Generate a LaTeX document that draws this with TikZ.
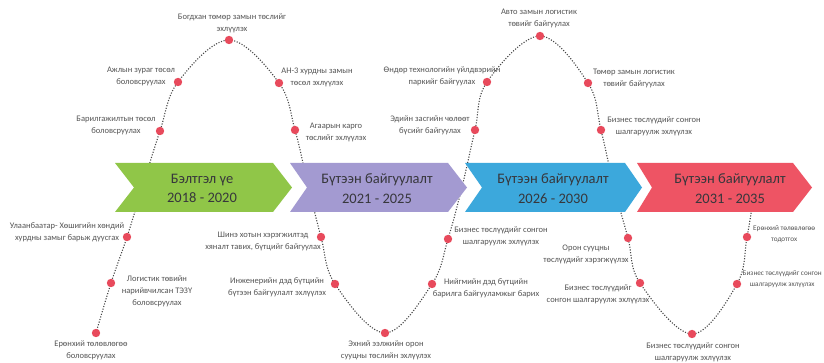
\documentclass[tikz,border=0pt]{standalone}
\usepackage{fontspec}
\setmainfont{Carlito}
\usepackage{xcolor}
\usepackage{tikz}

\definecolor{prepgreen}{RGB}{144,198,72}
\definecolor{buildpurple}{RGB}{163,154,209}
\definecolor{buildblue}{RGB}{60,168,220}
\definecolor{buildred}{RGB}{238,84,100}
\definecolor{dotred}{RGB}{232,74,92}
\definecolor{wavegray}{RGB}{70,70,70}
\definecolor{labelgray}{RGB}{85,85,85}
\definecolor{phasetext}{RGB}{55,55,60}

\begin{document}
\begin{tikzpicture}[x=10pt, y=10pt,
        lbl/.style={align=center, text=labelgray, font=\fontsize{8.5}{12}\selectfont, inner sep=0pt},
        edgelbl/.style={lbl, font=\fontsize{7.2}{11}\selectfont},
        phase/.style={align=center, text=phasetext, font=\fontsize{14.5}{19.5}\selectfont, inner sep=0pt},
        wave/.style={draw=wavegray, line width=1.1pt, dash pattern=on 1.1pt off 1.6pt},
        reddot/.style={fill=dotred}]
        % Frame
        \fill[white] (0,0) rectangle (82.4,36.3);
        \useasboundingbox (0,0) rectangle (82.4,36.3);

        % Coordinates
        \coordinate (A) at (9.60, 3.00);
        \coordinate (B) at (11.10, 8.00);
        \coordinate (C) at (12.70, 12.60);
        \coordinate (D) at (14.30, 17.80);
        \coordinate (E) at (16.00, 23.20);
        \coordinate (F) at (17.80, 28.10);
        \coordinate (G) at (22.90, 32.30);
        \coordinate (H) at (27.90, 28.00);
        \coordinate (I) at (29.50, 23.30);
        \coordinate (J) at (30.80, 17.80);
        \coordinate (K) at (32.10, 12.60);
        \coordinate (L) at (33.50, 7.90);
        \coordinate (M) at (38.50, 3.00);
        \coordinate (N) at (43.20, 7.90);
        \coordinate (O) at (44.80, 12.40);
        \coordinate (P) at (46.20, 17.60);
        \coordinate (Q) at (47.50, 23.30);
        \coordinate (R) at (48.70, 28.10);
        \coordinate (S) at (54.00, 32.70);
        \coordinate (T) at (58.80, 28.00);
        \coordinate (U) at (60.10, 23.30);
        \coordinate (V) at (61.40, 17.60);
        \coordinate (W) at (62.80, 12.50);
        \coordinate (X) at (64.00, 8.00);
        \coordinate (Y) at (69.20, 2.90);
        \coordinate (Z) at (73.70, 7.90);
        \coordinate (AA) at (74.70, 12.60);
        \coordinate (AB) at (75.40, 16.80);

        % Drawing
        \draw[wave] plot[smooth, tension=0.6] coordinates {(A) (B) (C) (D) (E) (F) (G) (H) (I) (J) (K) (L) (M) (N) (O) (P) (Q) (R) (S) (T) (U) (V) (W) (X) (Y) (Z) (AA) (AB)};

        \fill[prepgreen] (11.50,20.00) -- (27.30,20.00) -- (29.20,17.55) -- (27.30,15.10) -- (11.50,15.10) -- (13.40,17.55) -- cycle;
        \fill[buildpurple] (29.00,20.00) -- (44.80,20.00) -- (46.70,17.55) -- (44.80,15.10) -- (29.00,15.10) -- (30.70,17.55) -- cycle;
        \fill[buildblue] (46.50,20.00) -- (62.50,20.00) -- (64.20,17.55) -- (62.50,15.10) -- (46.50,15.10) -- (48.20,17.55) -- cycle;
        \fill[buildred] (63.70,20.00) -- (79.30,20.00) -- (81.20,17.55) -- (79.30,15.10) -- (63.70,15.10) -- (65.20,17.55) -- cycle;
        \node[phase] (PA) at (20.20,17.45) {Бэлтгэл үе\\2018 - 2020};
        \node[phase] (PB) at (37.70,17.45) {Бүтээн байгуулалт\\2021 - 2025};
        \node[phase] (PC) at (55.30,17.45) {Бүтээн байгуулалт\\2026 - 2030};
        \node[phase] (PD) at (73.00,17.45) {Бүтээн байгуулалт\\2031 - 2035};

        \fill[reddot] (A) circle (0.42);
        \fill[reddot] (B) circle (0.42);
        \fill[reddot] (C) circle (0.42);
        \fill[reddot] (E) circle (0.42);
        \fill[reddot] (F) circle (0.42);
        \fill[reddot] (G) circle (0.42);
        \fill[reddot] (H) circle (0.42);
        \fill[reddot] (I) circle (0.42);
        \fill[reddot] (K) circle (0.42);
        \fill[reddot] (L) circle (0.42);
        \fill[reddot] (M) circle (0.42);
        \fill[reddot] (N) circle (0.42);
        \fill[reddot] (O) circle (0.42);
        \fill[reddot] (Q) circle (0.42);
        \fill[reddot] (R) circle (0.42);
        \fill[reddot] (S) circle (0.42);
        \fill[reddot] (T) circle (0.42);
        \fill[reddot] (U) circle (0.42);
        \fill[reddot] (W) circle (0.42);
        \fill[reddot] (X) circle (0.42);
        \fill[reddot] (Y) circle (0.42);
        \fill[reddot] (Z) circle (0.42);
        \fill[reddot] (AA) circle (0.42);

        \node[lbl] (LA) at (9.10,1.30) {Ерөнхий төлөвлөгөө\\боловсруулах};
        \node[lbl] (LB) at (15.70,7.15) {Логистик төвийн\\нарийвчилсан ТЭЗҮ\\боловсруулах};
        \node[lbl] (LC) at (6.70,13.05) {Улаанбаатар- Хөшигийн хөндий\\хурдны замыг барьж дуусгах};
        \node[lbl] (LE) at (11.60,23.75) {Барилгажилтын төсөл\\боловсруулах};
        \node[lbl] (LF) at (14.10,28.70) {Ажлын зураг төсөл\\боловсруулах};
        \node[lbl] (LG) at (23.20,33.95) {Богдхан төмөр замын төслийг\\эхлүүлэх};
        \node[lbl] (LH) at (31.70,28.55) {АН-3 хурдны замын\\төсөл эхлүүлэх};
        \node[lbl] (LI) at (33.60,23.10) {Агаарын карго\\төслийг эхлүүлэх};
        \node[lbl] (LK) at (26.30,12.15) {Шинэ хотын хэрэгжилтэд\\хяналт тавих, бүтцийг байгуулах};
        \node[lbl] (LL) at (27.70,7.55) {Инженерийн дэд бүтцийн\\бүтээн байгуулалт эхлүүлэх};
        \node[lbl] (LM) at (38.60,1.30) {Эхний ээлжийн орон\\сууцны төслийн эхлүүлэх};
        \node[lbl] (LN) at (48.60,7.50) {Нийгмийн дэд бүтцийн\\барилга байгууламжыг барих};
        \node[lbl] (LO) at (50.10,12.70) {Бизнес төслүүдийг сонгон\\шалгаруулж эхлүүлэх};
        \node[lbl] (LQ) at (43.00,23.80) {Эдийн засгийн чөлөөт\\бүсийг байгуулах};
        \node[lbl] (LR) at (44.20,28.70) {Өндөр технологийн үйлдвэрийн\\паркийг байгуулах};
        \node[lbl] (LS) at (53.90,34.50) {Авто замын логистик\\төвийг байгуулах};
        \node[lbl] (LT) at (63.40,28.50) {Төмөр замын логистик\\төвийг байгуулах};
        \node[lbl] (LU) at (65.40,23.65) {Бизнес төслүүдийг сонгон\\шалгаруулж эхлүүлэх};
        \node[lbl] (LW) at (58.60,10.90) {Орон сууцны\\төслүүдийг хэрэгжүүлэх};
        \node[lbl] (LX) at (59.80,6.90) {Бизнес төслүүдийг\\сонгон шалгаруулж эхлүүлэх};
        \node[lbl] (LY) at (69.30,1.10) {Бизнес төслүүдийг сонгон\\шалгаруулж эхлүүлэх};
        \node[edgelbl, anchor=west] (LZ) at (74.25,8.35) {Бизнес төслүүдийг сонгон\\шалгаруулж эхлүүлэх};
        \node[edgelbl, anchor=west] (LAA) at (75.30,12.85) {Ерөнхий төлөвлөгөө\\тодотгох};
\end{tikzpicture}
\end{document}
